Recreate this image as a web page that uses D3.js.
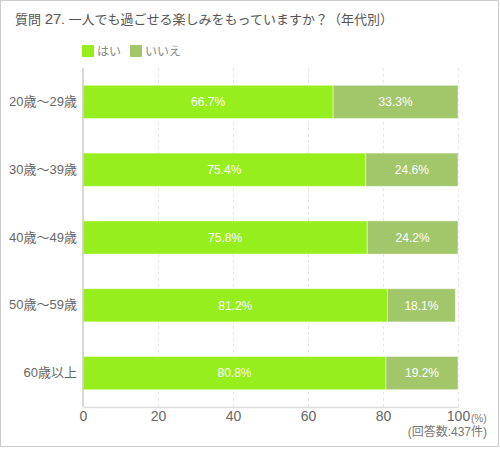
<!DOCTYPE html>
<html>

<head>
  <meta charset="utf-8">
  <style>
    body { margin: 0; background: #fff; }
    text { font-family: "Liberation Sans", "Noto Sans CJK JP", sans-serif; }
  </style>
</head>

<body>
  <script src="https://d3js.org/d3.v7.min.js"></script>
  <script>
    var categories = ["20歳〜29歳", "30歳〜39歳", "40歳〜49歳", "50歳〜59歳", "60歳以上"];
    var seriesNames = ["はい", "いいえ"];
    var yesValues = [66.7, 75.4, 75.8, 81.2, 80.8];
    var noValues = [33.3, 24.6, 24.2, 18.1, 19.2];
    var xTicks = [0, 20, 40, 60, 80, 100];
    var colors = ["#97ee1d", "#a2c76b"];

    var width = 500,
      height = 450,
      margin = { top: 68, right: 42, bottom: 43, left: 83 };

    var svg = d3.select("body").append("svg")
      .attr("width", width)
      .attr("height", height);

    // outer frame
    svg.append("rect")
      .attr("x", 0.5).attr("y", 0.5)
      .attr("width", width - 2).attr("height", height - 4)
      .attr("fill", "#fff")
      .attr("stroke", "#cccccc");

    var x = d3.scaleLinear()
      .domain([0, 100])
      .range([margin.left, width - margin.right]);

    var y = d3.scaleBand()
      .domain(categories)
      .range([margin.top, height - margin.bottom])
      .paddingInner(0.51)
      .paddingOuter(0.255);

    // title
    var title = svg.append("text")
      .attr("x", 15)
      .attr("y", 24)
      .attr("fill", "#555")
      .attr("font-size", 13);
    title.append("tspan").text("質問 ");
    title.append("tspan").attr("font-size", 15).text("27");
    title.append("tspan").text(". 一人でも過ごせる楽しみをもっていますか？（年代別）");

    // legend
    var legend = svg.selectAll(".legend")
      .data(seriesNames)
      .enter().append("g")
      .attr("class", "legend")
      .attr("transform", function(d, i) {
        return "translate(" + (82 + i * 48) + ",45)";
      });
    legend.append("rect")
      .attr("width", 12).attr("height", 12)
      .attr("fill", function(d, i) { return colors[i]; });
    legend.append("text")
      .attr("x", 15).attr("y", 11)
      .attr("font-size", 12)
      .attr("fill", "#888")
      .text(function(d) { return d; });

    // grid
    svg.selectAll(".grid")
      .data(xTicks.slice(1))
      .enter().append("line")
      .attr("class", "grid")
      .attr("x1", function(d) { return x(d) + 0.5; })
      .attr("x2", function(d) { return x(d) + 0.5; })
      .attr("y1", margin.top)
      .attr("y2", height - margin.bottom)
      .attr("stroke", "#e6e6e6")
      .attr("stroke-dasharray", "3,3");

    // stacked bars
    var rows = categories.map(function(c, i) {
      return { name: c, values: [yesValues[i], noValues[i]] };
    });

    var row = svg.selectAll(".row")
      .data(rows)
      .enter().append("g")
      .attr("class", "row")
      .attr("transform", function(d) { return "translate(0," + y(d.name) + ")"; });

    row.each(function(d) {
      var g = d3.select(this);
      var start = 0;
      d.values.forEach(function(v, i) {
        g.append("rect")
          .attr("x", x(start))
          .attr("y", 0)
          .attr("width", x(start + v) - x(start))
          .attr("height", y.bandwidth())
          .attr("fill", colors[i])
          .attr("stroke", "rgba(255,255,255,0.45)")
          .attr("stroke-width", 1);
        g.append("text")
          .attr("x", x(start + v / 2))
          .attr("y", y.bandwidth() / 2)
          .attr("dy", "0.36em")
          .attr("text-anchor", "middle")
          .attr("font-size", 12)
          .attr("fill", "#fff")
          .text(v.toFixed(1) + "%");
        start += v;
      });
    });

    // axes
    var yAxis = svg.append("g")
      .attr("transform", "translate(" + margin.left + ",0)")
      .call(d3.axisLeft(y).tickSize(0).tickPadding(6));
    yAxis.select(".domain").attr("stroke", "#cccccc").attr("stroke-width", 1.5)
      .attr("d", "M0," + margin.top + "V" + (height - margin.bottom));
    yAxis.selectAll("text").attr("font-size", 13).attr("fill", "#666")
      .style("font-family", "'Liberation Sans', 'Noto Sans CJK JP', sans-serif");

    var xAxis = svg.append("g")
      .attr("transform", "translate(0," + (height - margin.bottom) + ")")
      .call(d3.axisBottom(x).tickValues(xTicks).tickSize(0).tickPadding(4));
    xAxis.select(".domain").attr("stroke", "#dddddd").attr("stroke-width", 1.5);
    xAxis.selectAll("text").attr("font-size", 14).attr("fill", "#666")
      .style("font-family", "'Liberation Sans', 'Noto Sans CJK JP', sans-serif");

    svg.append("text")
      .attr("x", x(100) + 13)
      .attr("y", height - margin.bottom + 15)
      .attr("font-size", 10)
      .attr("fill", "#777")
      .text("(%)");

    svg.append("text")
      .attr("x", 487)
      .attr("y", 436)
      .attr("text-anchor", "end")
      .attr("font-size", 12)
      .attr("fill", "#777")
      .text("(回答数:437件)");
  </script>
</body>

</html>
